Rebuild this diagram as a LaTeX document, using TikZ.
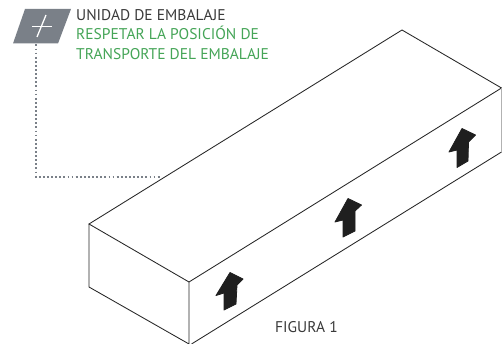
\documentclass[tikz,border=0pt]{standalone}
\usepackage{fontspec}
\setmainfont{PT Sans}
\definecolor{boxgrey}{HTML}{7A8088}
\definecolor{labelgreen}{HTML}{45A557}
\definecolor{labeldark}{HTML}{3A3A3A}
\tikzset{
  edge/.style={draw=black!85,line width=0.85pt,line join=miter},
  arrowshape/.style={fill=black!88,draw=black!88,line width=0.8pt,line join=round},
  dots/.style={draw=boxgrey,line width=1.8pt,dash pattern=on 1.8pt off 2.3pt},
  lab/.style={anchor=base west,inner sep=0pt,font=\fontsize{15.5}{16}\selectfont},
  lines/.style={x=1pt,y=-1pt}
}
\begin{document}
\begin{tikzpicture}[lines]
\useasboundingbox[fill=white] (0,0) rectangle (502,344);
% box corners
\coordinate (L) at (89,224);
\coordinate (LB) at (89,287);
\coordinate (F) at (189,282);
\coordinate (FB) at (189,344);
\coordinate (B) at (402,30);
\coordinate (R) at (501.5,88);
\coordinate (RB) at (501.5,152);
\coordinate (FB2) at (191.5,344);
\draw[edge] (L) -- (B) -- (R) -- (F) -- cycle;
\draw[edge] (L) -- (LB) -- (FB) -- (F);
\draw[edge] (FB2) -- (RB);
\draw[draw=black!30,line width=0.6pt] (R) -- (RB);
% arrows
\fill[arrowshape] (230,272.5) -- (243,279) -- (237,285) -- (236,304) -- (224,310) -- (224,293) -- (216,295.5) -- cycle;
\fill[arrowshape] (348,198.5) -- (361.5,205) -- (355,211) -- (355,231) -- (343,237) -- (343,220) -- (335,222) -- cycle;
\fill[arrowshape] (462,128.5) -- (475.5,135) -- (468.5,142) -- (468,161) -- (457,167.5) -- (457,150) -- (449,152) -- cycle;
% badge
\fill[boxgrey] (25,9) -- (71,9) -- (58,43.5) -- (13,43.5) -- cycle;
\draw[white,line width=1.3pt] (32,26.5) -- (52,26.5);
\draw[white,line width=1.3pt] (46,15) -- (37,37);
% dotted leader
\coordinate (d0) at (36,44.5);
\coordinate (d1) at (36,177);
\coordinate (d2) at (161,177);
\draw[dots] (d0) -- (d1) -- (d2);
% labels
\node[lab,text=labeldark] (t1) at (76,20.5) {UNIDAD DE EMBALAJE};
\node[lab,text=labelgreen] (t2) at (76,40) {RESPETAR LA POSICIÓN DE};
\node[lab,text=labelgreen] (t3) at (76,59.5) {TRANSPORTE DEL EMBALAJE};
\node[lab,text=labeldark] (t4) at (275,332.5) {FIGURA 1};
\end{tikzpicture}
\end{document}
